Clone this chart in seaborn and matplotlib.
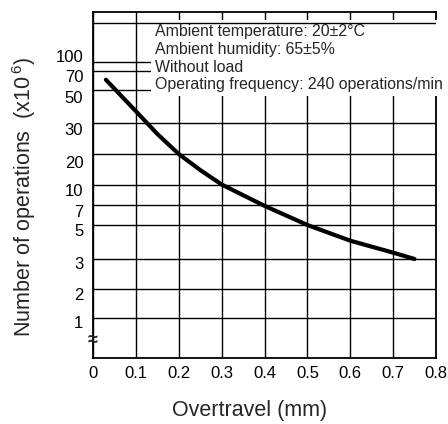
import numpy as np
import pandas as pd
import matplotlib
matplotlib.use("Agg")
from matplotlib import pyplot as plt
from matplotlib.transforms import ScaledTranslation
import seaborn as sns

# curve
overtravel = [0.03, 0.1, 0.15, 0.2, 0.25, 0.3, 0.4, 0.5, 0.6, 0.7, 0.75]
operations = [60, 36, 26, 20, 13.9, 10, 6.9, 5, 3.95, 3.3, 3.0]

x_ticks = [0, 0.1, 0.2, 0.3, 0.4, 0.5, 0.6, 0.7, 0.8]
x_labels = ['0', '0.1', '0.2', '0.3', '0.4', '0.5', '0.6', '0.7', '0.8']
y_ticks = [1, 2, 3, 5, 7, 10, 20, 30, 50, 70, 100]
y_labels = ['1', '2', '3', '5', '7', '10', '20', '30', '50', '70', '100']

conditions = ['Ambient temperature: 20\u00b12\u00b0C',
              'Ambient humidity: 65\u00b15%',
              'Without load',
              'Operating frequency: 240 operations/min']

# the y axis of the original is only roughly logarithmic:
# anchor values and their height above the bottom of the frame (px)
axis_values = [0.5, 1, 2, 3, 5, 7, 10, 20, 30, 50, 70, 100, 150, 200]
axis_heights = [0, 40, 69, 99, 133, 153, 173.5, 204, 235, 268, 287, 296, 335, 346]
# vertical nudge of each y tick label (px, + is down)
label_nudge = [4, 5, 4, 5, 6, 6, 8, 6, 7, 5, -6]

log_vals = np.log10(axis_values)


def forward(y):
    y = np.clip(np.asarray(y, dtype=float), 1e-6, None)
    return np.interp(np.log10(y), log_vals, axis_heights)


def inverse(h):
    return 10 ** np.interp(np.asarray(h, dtype=float), axis_heights, log_vals)


def main():
    sns.set_style("white")
    plt.rcParams['font.family'] = ['Liberation Sans', 'DejaVu Sans']
    plt.rcParams['mathtext.fontset'] = 'custom'
    plt.rcParams['mathtext.rm'] = 'Liberation Sans'

    fig = plt.figure(figsize=(4.48, 4.24), dpi=100)
    ax = fig.add_axes([93 / 448, 1 - 358 / 424, 343 / 448, 346 / 424])

    ax.set_yscale('function', functions=(forward, inverse))
    ax.set_xlim(0, 0.8)
    ax.set_ylim(0.5, 200)

    df = pd.DataFrame({'overtravel': overtravel, 'operations': operations})
    sns.lineplot(data=df, x='overtravel', y='operations', ax=ax,
                 color='black', linewidth=3, zorder=4)

    ax.set_xticks(x_ticks)
    ax.set_xticklabels(x_labels)
    ax.set_yticks(y_ticks)
    ax.set_yticklabels(y_labels)
    ax.minorticks_off()
    ax.tick_params(axis='both', length=0, labelsize=12, colors='black')
    ax.tick_params(axis='x', pad=6)
    ax.tick_params(axis='y', pad=7)
    for lab, dy in zip(ax.get_yticklabels(), label_nudge):
        lab.set_transform(lab.get_transform() +
                          ScaledTranslation(0, -dy / 100, fig.dpi_scale_trans))

    ax.grid(True, color='black', linewidth=1)
    ax.axhline(150, color='black', linewidth=1, zorder=5)
    for sp in ax.spines.values():
        sp.set_color('black')
        sp.set_linewidth(1.3)

    ax.text(0.181, 0.965, '\n'.join(conditions), transform=ax.transAxes,
            ha='left', va='top', fontsize=11.4, linespacing=1.23, zorder=3,
            bbox=dict(boxstyle='square,pad=0.25', fc='white', ec='none'))

    # broken axis mark
    ax.text(0, 0.67, '\u2248', ha='center', va='center', fontsize=13,
            fontweight='bold', clip_on=False, zorder=6)

    ax.set_xlabel('Overtravel (mm)', fontsize=15.5, va='center')
    ax.xaxis.set_label_coords(0.456, -0.153)
    ax.set_ylabel('Number of operations  (x10$^{\\,6}$)', fontsize=15.5, va='center')
    ax.yaxis.set_label_coords(-0.201, 0.466)

    fig.savefig('out.png', dpi=100)


if __name__ == '__main__':
    main()
